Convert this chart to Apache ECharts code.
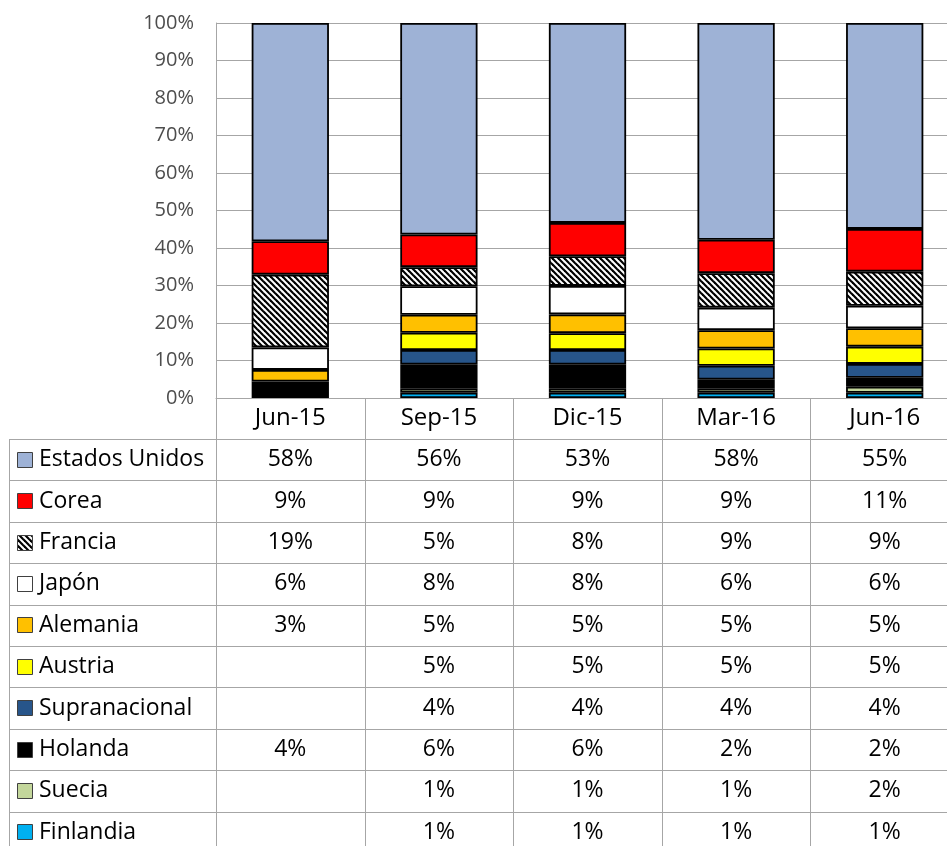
<!DOCTYPE html>
<html>
<head>
<meta charset="utf-8">
<script src="https://cdn.jsdelivr.net/npm/echarts@6/dist/echarts.min.js"></script>
<style>
  html, body { margin: 0; padding: 0; overflow: hidden; background: #fff; }
  #main { width: 959px; height: 860px; }
</style>
</head>
<body>
<div id="main"></div>
<script>
// datos (porcentaje de cada pais por trimestre)
const categories = ["Jun-15", "Sep-15", "Dic-15", "Mar-16", "Jun-16"];
const estadosUnidos = [58.2, 56.4, 53.3, 57.8, 54.9];
const corea = [8.9, 8.7, 8.9, 8.9, 11.4];
const francia = [19.4, 5.1, 7.9, 9.2, 9.1];
const japon = [6.0, 7.6, 7.6, 6.0, 6.0];
const alemania = [3.1, 4.8, 5.0, 4.9, 4.9];
const austria = [null, 4.6, 4.5, 4.6, 4.6];
const supranacional = [null, 3.9, 3.9, 3.7, 3.7];
const holanda = [4.4, 6.4, 6.4, 2.4, 2.4];
const suecia = [null, 1.1, 1.1, 1.1, 1.6];
const finlandia = [null, 1.4, 1.4, 1.4, 1.4];
const yTicks = [0, 10, 20, 30, 40, 50, 60, 70, 80, 90, 100];

// rayado diagonal para Francia
function hatch() {
  const c = document.createElement("canvas");
  const s = 6;
  c.width = s;
  c.height = s;
  const ctx = c.getContext("2d");
  ctx.fillStyle = "#fff";
  ctx.fillRect(0, 0, s, s);
  ctx.strokeStyle = "#000";
  ctx.lineWidth = 2.2;
  for (let k = -1; k <= 1; k++) {
    ctx.beginPath();
    ctx.moveTo(k * s - 1, -1);
    ctx.lineTo(k * s + s + 1, s + 1);
    ctx.stroke();
  }
  return { image: c, repeat: "repeat" };
}
const hatchFill = hatch();

// orden de la tabla (arriba a abajo)
const rows = [
  { name: "Estados Unidos", data: estadosUnidos, color: "#9EB2D6" },
  { name: "Corea", data: corea, color: "#FF0000" },
  { name: "Francia", data: francia, color: hatchFill },
  { name: "Japón", data: japon, color: "#FFFFFF" },
  { name: "Alemania", data: alemania, color: "#FFC000" },
  { name: "Austria", data: austria, color: "#FFFF00" },
  { name: "Supranacional", data: supranacional, color: "#27558A" },
  { name: "Holanda", data: holanda, color: "#000000" },
  { name: "Suecia", data: suecia, color: "#C3D69B" },
  { name: "Finlandia", data: finlandia, color: "#00B0F0" }
];

const FONT = "'Open Sans', 'Noto Sans', sans-serif";
const W = 959, H = 860;
const gridLeft = 216, gridTop = 23, axisY = 398;
const rowTop = 439, rowH = 41.4, tableLeft = 9;
const lineColor = "#A6A6A6";

const myChart = echarts.init(document.getElementById("main"));

const series = rows.slice().reverse().map(function (r) {
  return {
    name: r.name,
    type: "bar",
    stack: "total",
    barCategoryGap: "48%",
    itemStyle: {
      color: r.color,
      borderColor: "#000",
      borderWidth: 1.8
    },
    data: r.data
  };
});

const option = {
  animation: false,
  textStyle: { fontFamily: FONT },
  grid: { left: gridLeft, top: gridTop, right: 0, bottom: H - axisY },
  xAxis: {
    type: "category",
    data: categories,
    axisLine: { lineStyle: { color: lineColor, width: 1 } },
    axisTick: { show: false },
    axisLabel: { fontSize: 24, color: "#000", margin: 20, verticalAlign: "middle", fontFamily: FONT }
  },
  yAxis: {
    type: "value",
    min: yTicks[0],
    max: yTicks[yTicks.length - 1],
    interval: yTicks[1] - yTicks[0],
    axisLine: { show: true, lineStyle: { color: lineColor, width: 1 } },
    axisTick: { show: false },
    splitLine: { lineStyle: { color: lineColor, width: 1 } },
    axisLabel: { fontSize: 20, color: "#4d4d4d", margin: 22, formatter: "{value}%", fontFamily: FONT }
  },
  series: series
};
myChart.setOption(option);

// tabla de datos bajo el grafico
function buildTable() {
  const els = [];
  const band = (W - gridLeft) / categories.length;
  const px = function (v) { return Math.round(v) + 0.5; };
  const line = function (x1, y1, x2, y2) {
    els.push({
      type: "line", silent: true,
      shape: { x1: x1, y1: y1, x2: x2, y2: y2 },
      style: { stroke: lineColor, lineWidth: 1 }
    });
  };
  // lineas horizontales
  for (let i = 0; i <= rows.length; i++) {
    const y = px(rowTop + i * rowH);
    line(tableLeft, y, W, y);
  }
  // lineas verticales
  line(px(tableLeft), rowTop, px(tableLeft), H);
  for (let j = 0; j <= categories.length; j++) {
    const x = px(gridLeft + j * band);
    line(x, axisY, x, H);
  }
  rows.forEach(function (r, i) {
    const cy = rowTop + i * rowH + rowH / 2;
    els.push({
      type: "rect", silent: true,
      shape: { x: 17.5, y: Math.round(cy - 8) + 0.5, width: 15, height: 15 },
      style: { fill: r.color, stroke: "#404040", lineWidth: 1 }
    });
    els.push({
      type: "text", silent: true, x: 39, y: cy,
      style: { text: r.name, font: "23px " + FONT, fill: "#000", textAlign: "left", textVerticalAlign: "middle" }
    });
    r.data.forEach(function (v, j) {
      if (v == null) return;
      const cx = myChart.convertToPixel({ xAxisIndex: 0 }, categories[j]);
      els.push({
        type: "text", silent: true, x: cx, y: cy,
        style: { text: Math.round(v) + "%", font: "23px " + FONT, fill: "#000", textAlign: "center", textVerticalAlign: "middle" }
      });
    });
  });
  myChart.setOption({ graphic: { elements: els } });
}
buildTable();

window.addEventListener("resize", function () {
  myChart.resize();
});
</script>
</body>
</html>
